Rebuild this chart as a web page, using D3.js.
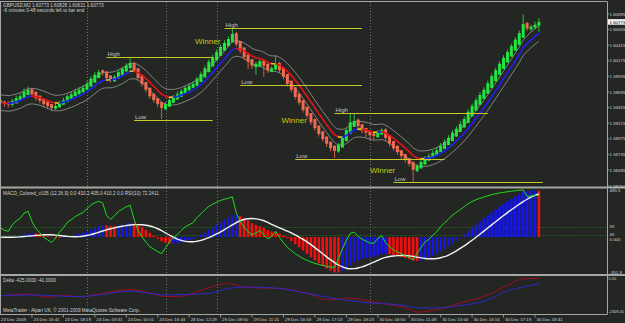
<!DOCTYPE html>
<html>
<head>
<meta charset="utf-8">
<script src="https://cdn.jsdelivr.net/npm/d3@7"></script>
<style>
  body { margin: 0; background: #232623; }
  svg { display: block; font-family: "Liberation Sans", Arial, sans-serif; }
  .mt-txt { fill: #d2d2d2; font-size: 4.7px; }
  .mt-axis { fill: #d2d2d2; font-size: 4.4px; }
  .mt-lvl-lbl { fill: #c4c4c4; font-size: 6px; }
  .mt-winner { fill: #c8c818; font-size: 8px; }
</style>
</head>
<body>
<svg id="chart"></svg>
<script>
// GBPUSD M2, 138 bars
const opens = [
  1.5957,1.5955,1.5953,1.5950,1.5952,1.5957,1.5961,1.5965,1.5974,1.5970,
  1.5964,1.5959,1.5955,1.5951,1.5944,1.5946,1.5950,1.5954,1.5959,1.5963,
  1.5966,1.5969,1.5973,1.5978,1.5984,1.5991,1.6003,1.6001,1.5995,1.5986,
  1.5990,1.5995,1.6001,1.6006,1.6014,1.6006,1.5995,1.5985,1.5976,1.5967,
  1.5960,1.5954,1.5943,1.5947,1.5953,1.5958,1.5962,1.5967,1.5972,1.5976,
  1.5979,1.5985,1.5992,1.6000,1.6009,1.6018,1.6025,1.6033,1.6040,1.6046,
  1.6060,1.6048,1.6038,1.6027,1.6020,1.6008,1.6009,1.6018,1.6013,1.6001,
  1.6004,1.6014,1.6007,1.5997,1.5987,1.5977,1.5967,1.5957,1.5947,1.5937,
  1.5928,1.5918,1.5909,1.5901,1.5893,1.5887,1.5878,1.5884,1.5894,1.5905,
  1.5916,1.5927,1.5920,1.5914,1.5910,1.5906,1.5900,1.5904,1.5912,1.5903,
  1.5894,1.5887,1.5880,1.5874,1.5868,1.5862,1.5848,1.5852,1.5858,1.5864,
  1.5868,1.5872,1.5877,1.5882,1.5888,1.5894,1.5901,1.5908,1.5915,1.5922,
  1.5932,1.5941,1.5950,1.5959,1.5967,1.5976,1.5986,1.5996,1.6005,1.6015,
  1.6024,1.6033,1.6042,1.6053,1.6076,1.6066,1.6069,1.6072];
const closes = [
  1.5953,1.5951,1.5950,1.5956,1.5960,1.5963,1.5970,1.5973,1.5966,1.5960,
  1.5956,1.5951,1.5948,1.5945,1.5948,1.5953,1.5957,1.5963,1.5966,1.5970,
  1.5973,1.5976,1.5982,1.5990,1.5996,1.6000,1.5999,1.5991,1.5988,1.5993,
  1.6000,1.6005,1.6010,1.6014,1.6003,1.5991,1.5982,1.5973,1.5963,1.5957,
  1.5951,1.5945,1.5951,1.5957,1.5962,1.5966,1.5971,1.5976,1.5979,1.5982,
  1.5990,1.5997,1.6006,1.6016,1.6023,1.6031,1.6039,1.6045,1.6051,1.6059,
  1.6043,1.6033,1.6023,1.6016,1.6010,1.6013,1.6017,1.6010,1.6003,1.6006,
  1.6013,1.6003,1.5993,1.5982,1.5973,1.5962,1.5953,1.5942,1.5933,1.5923,
  1.5914,1.5905,1.5897,1.5890,1.5883,1.5879,1.5888,1.5899,1.5911,1.5923,
  1.5925,1.5917,1.5911,1.5907,1.5903,1.5902,1.5908,1.5911,1.5899,1.5890,
  1.5883,1.5877,1.5871,1.5865,1.5859,1.5850,1.5856,1.5862,1.5868,1.5871,
  1.5876,1.5880,1.5887,1.5893,1.5899,1.5907,1.5913,1.5920,1.5928,1.5939,
  1.5948,1.5957,1.5965,1.5973,1.5983,1.5994,1.6003,1.6013,1.6022,1.6031,
  1.6040,1.6050,1.6060,1.6074,1.6067,1.6070,1.6073,1.6077];
const highs = [
  1.5958,1.5956,1.5955,1.5959,1.5964,1.5967,1.5975,1.5978,1.5976,1.5968,
  1.5963,1.5958,1.5953,1.5950,1.5951,1.5956,1.5961,1.5966,1.5970,1.5974,
  1.5977,1.5980,1.5986,1.5994,1.6000,1.6004,1.6004,1.6001,1.5993,1.5996,
  1.6003,1.6008,1.6014,1.6022,1.6016,1.6005,1.5993,1.5984,1.5975,1.5966,
  1.5959,1.5953,1.5954,1.5960,1.5965,1.5970,1.5974,1.5979,1.5983,1.5986,
  1.5993,1.6001,1.6010,1.6020,1.6027,1.6035,1.6043,1.6049,1.6055,1.6068,
  1.6062,1.6046,1.6036,1.6026,1.6019,1.6016,1.6020,1.6020,1.6013,1.6009,
  1.6026,1.6016,1.6006,1.5996,1.5985,1.5976,1.5965,1.5956,1.5945,1.5936,
  1.5926,1.5917,1.5908,1.5900,1.5893,1.5886,1.5891,1.5902,1.5914,1.5937,
  1.5937,1.5929,1.5920,1.5914,1.5910,1.5907,1.5911,1.5914,1.5914,1.5902,
  1.5893,1.5886,1.5880,1.5874,1.5868,1.5862,1.5859,1.5865,1.5871,1.5875,
  1.5880,1.5884,1.5891,1.5897,1.5903,1.5911,1.5917,1.5925,1.5932,1.5943,
  1.5952,1.5961,1.5969,1.5977,1.5987,1.5998,1.6007,1.6017,1.6026,1.6035,
  1.6044,1.6054,1.6064,1.6089,1.6077,1.6073,1.6078,1.6083];
const lows = [
  1.5949,1.5947,1.5946,1.5947,1.5953,1.5957,1.5960,1.5967,1.5962,1.5956,
  1.5952,1.5946,1.5943,1.5940,1.5942,1.5946,1.5950,1.5955,1.5961,1.5964,
  1.5967,1.5970,1.5973,1.5979,1.5987,1.5993,1.5995,1.5987,1.5984,1.5985,
  1.5990,1.5997,1.6002,1.6007,1.6000,1.5988,1.5978,1.5969,1.5959,1.5953,
  1.5946,1.5928,1.5942,1.5948,1.5954,1.5959,1.5963,1.5968,1.5973,1.5976,
  1.5979,1.5987,1.5994,1.6003,1.6013,1.6020,1.6028,1.6036,1.6042,1.6048,
  1.6040,1.6029,1.6019,1.6005,1.6005,1.5996,1.6008,1.5993,1.5999,1.6000,
  1.6003,1.5999,1.5989,1.5978,1.5969,1.5958,1.5949,1.5938,1.5929,1.5919,
  1.5910,1.5901,1.5893,1.5885,1.5878,1.5868,1.5876,1.5886,1.5897,1.5909,
  1.5919,1.5912,1.5906,1.5900,1.5895,1.5896,1.5899,1.5904,1.5895,1.5886,
  1.5879,1.5873,1.5867,1.5861,1.5855,1.5830,1.5846,1.5852,1.5859,1.5865,
  1.5868,1.5873,1.5877,1.5884,1.5890,1.5896,1.5904,1.5910,1.5917,1.5925,
  1.5935,1.5945,1.5954,1.5962,1.5970,1.5980,1.5991,1.6000,1.6010,1.6019,
  1.6028,1.6037,1.6047,1.6057,1.6064,1.6063,1.6066,1.6062];

const priceTicks = [1.60895, 1.60655, 1.60415, 1.60175, 1.59935, 1.59695, 1.59455, 1.59215, 1.58975, 1.58735, 1.58495, 1.58250];
const lastPrice = 1.60773;
const timeLabels = ['23 Dec 2009', '23 Dec 16:41', '23 Dec 18:19', '24 Dec 03:31', '24 Dec 10:01', '24 Dec 16:43',
  '28 Dec 12:29', '29 Dec 08:50', '29 Dec 11:21', '29 Dec 16:03', '29 Dec 17:13', '29 Dec 18:23',
  '30 Dec 03:50', '30 Dec 11:48', '30 Dec 15:04', '30 Dec 16:16', '30 Dec 17:19', '30 Dec 18:41'];
const daySeparators = [22, 42, 55, 94];

// High / Low lines drawn on the chart
const levelNames  = ['High', 'Low', 'High', 'Low', 'High', 'Low', 'Low'];
const levelPrices = [1.60234, 1.59265, 1.60680, 1.59803, 1.59373, 1.58665, 1.58312];
const levelFrom   = [27, 34, 57, 61, 85, 75, 100];
const levelTo     = [54, 54, 92, 92, 124, 113, 138];
const winnerBars   = [49.5, 71.5, 94];
const winnerPrices = [1.60434, 1.59219, 1.58450];

// MACD / RSI panel scale labels
const macdTopLabel = '485.5', macdBottomLabel = '-351.9';
const rsiLevels = [55, 45];

// Delta indicator, two lines
const deltaRedBars  = [0,7,12,16,20,25,33,38,42,47,50,58,63,71,78,83,89,94,99,104,106,111,117,124,129,133,137];
const deltaRed      = [-1222,-1087,-1311,-1155,-1290,-1087,-767,-998,-1270,-1222,-930,-360,-631,-699,-1039,-1494,-1378,-1609,-1833,-2125,-2356,-2173,-1718,-1154,-475,-20,20];
const deltaBlueBars = [0,7,15,20,25,33,38,42,48,53,58,62,71,78,86,94,99,104,106,111,117,124,129,134,137];
const deltaBlue     = [-1202,-1154,-1222,-1270,-1154,-883,-1039,-1154,-1107,-1039,-699,-591,-699,-1039,-1446,-1718,-1786,-1949,-2057,-2057,-1901,-1494,-862,-543,-360];
const deltaTop = 0, deltaBottom = -2309.45;

function ema(arr, n) {
  const k = 2 / (n + 1);
  let prev = arr[0];
  return arr.map((v, i) => (prev = i ? v * k + prev * (1 - k) : v));
}

// Wilder RSI, seeded with the mean move of the first n bars
function rsi(arr, n) {
  const diffs = arr.map((v, i) => (i ? v - arr[i - 1] : 0));
  let ag = d3.mean(diffs.slice(1, n + 1), (d) => Math.max(d, 0));
  let al = d3.mean(diffs.slice(1, n + 1), (d) => Math.max(-d, 0));
  return diffs.map((d, i) => {
    if (i) {
      ag = (ag * (n - 1) + Math.max(d, 0)) / n;
      al = (al * (n - 1) + Math.max(-d, 0)) / n;
    }
    return al === 0 ? 100 : 100 - 100 / (1 + ag / al);
  });
}

function render() {
  const W = 625, H = 323, R = 607;
  const n = closes.length;
  const bars = d3.range(n);

  const svg = d3.select('#chart').attr('width', W).attr('height', H);
  svg.append('rect').attr('width', W).attr('height', H).attr('fill', '#232623');

  const defs = svg.append('defs');
  [['cMain', 2, 186.5], ['cMacd', 188.5, 274], ['cDelta', 276, 314]].forEach(([id, y0, y1]) =>
    defs.append('clipPath').attr('id', id).append('rect')
      .attr('x', 0).attr('y', y0).attr('width', R).attr('height', y1 - y0));

  const x  = d3.scaleLinear().domain([0, n - 1]).range([0.5, 538.9]);
  const yP = d3.scaleLinear().domain([1.5825, 1.60895]).range([186, 14]);
  const yR = d3.scaleLinear().domain([0, 100]).range([275, 187]);
  const yD = d3.scaleLinear().domain([deltaBottom, deltaTop]).range([311.5, 278.5]);

  // day separators
  daySeparators.forEach((b) =>
    svg.append('line').attr('x1', Math.round(x(b)) + 0.5).attr('x2', Math.round(x(b)) + 0.5)
      .attr('y1', 2).attr('y2', 314).attr('stroke', '#8a8a8a').attr('stroke-width', 0.8)
      .attr('stroke-dasharray', '1,2'));

  // ---- main panel ----
  const gm = svg.append('g').attr('clip-path', 'url(#cMain)');

  const ma = ema(closes, 8);
  const env = 0.0012;
  [env, -env].forEach((o) =>
    gm.append('path').datum(ma)
      .attr('d', d3.line().x((d, i) => x(i)).y((d) => yP(d + o)).curve(d3.curveMonotoneX))
      .attr('fill', 'none').attr('stroke', '#9c9c9c').attr('stroke-width', 0.8));

  const up = (i) => closes[i] >= opens[i];
  gm.selectAll('.wick').data(bars).enter().append('line')
    .attr('x1', (i) => x(i)).attr('x2', (i) => x(i))
    .attr('y1', (i) => yP(Math.max(highs[i], opens[i], closes[i])))
    .attr('y2', (i) => yP(Math.min(lows[i], opens[i], closes[i])))
    .attr('stroke', (i) => (up(i) ? '#1fd83c' : '#e8604a')).attr('stroke-width', 0.9);
  gm.selectAll('.body').data(bars).enter().append('rect')
    .attr('x', (i) => x(i) - 1.5).attr('width', 3)
    .attr('y', (i) => yP(Math.max(opens[i], closes[i])))
    .attr('height', (i) => Math.max(0.8, Math.abs(yP(opens[i]) - yP(closes[i]))))
    .attr('fill', (i) => (up(i) ? '#22e640' : '#f26a52'));

  bars.slice(1).forEach((i) => {
    const s = ma[i] - ma[i - 1];
    gm.append('line').attr('x1', x(i - 1)).attr('y1', yP(ma[i - 1])).attr('x2', x(i)).attr('y2', yP(ma[i]))
      .attr('stroke', s > 0.00004 ? '#2020f0' : s < -0.00004 ? '#e01414' : '#d8d820')
      .attr('stroke-width', 1.6).attr('stroke-linecap', 'round');
  });

  levelNames.forEach((name, k) => {
    const ly = Math.round(yP(levelPrices[k])) + 0.5;
    gm.append('line').attr('x1', x(levelFrom[k])).attr('x2', x(levelTo[k]))
      .attr('y1', ly).attr('y2', ly).attr('stroke', '#c8c828').attr('stroke-width', 1.1);
    gm.append('text').attr('x', x(levelFrom[k]) + 1).attr('y', ly - 2)
      .attr('class', 'mt-lvl-lbl').text(name);
  });
  winnerBars.forEach((b, k) =>
    gm.append('text').attr('x', x(b)).attr('y', yP(winnerPrices[k]))
      .attr('class', 'mt-winner').text('Winner'));

  svg.append('text').attr('x', 3).attr('y', 6.5).attr('class', 'mt-txt')
    .text('GBPUSD,M2  1.60773 1.60828 1.60621 1.60773');
  svg.append('text').attr('x', 3).attr('y', 11.5).attr('class', 'mt-txt')
    .text('-6 minutes 0-48 seconds left to bar end');

  // ---- MACD + RSI panel ----
  const gc = svg.append('g').attr('clip-path', 'url(#cMacd)');
  const e12 = ema(closes, 12), e26 = ema(closes, 26);
  const macd = closes.map((c, i) => (e12[i] - e26[i]) * 1e5);
  const signal = macd.map((v, i) => d3.mean(macd.slice(Math.max(0, i - 8), i + 1)));
  const rs = rsi(closes, 10);
  // the sub-window scales itself to the visible MACD values, as the terminal does
  const yM = d3.scaleLinear().domain(d3.extent(macd.concat(signal))).range([272.5, 190.5]);

  rsiLevels.forEach((v) =>
    gc.append('line').attr('x1', 0).attr('x2', R).attr('y1', Math.round(yR(v)) + 0.5).attr('y2', Math.round(yR(v)) + 0.5)
      .attr('stroke', '#1c8c1c').attr('stroke-width', 0.8).attr('stroke-dasharray', '1,1.5'));

  gc.selectAll('.hist').data(bars).enter().append('rect')
    .attr('x', (i) => x(i) - 1.3).attr('width', 2.6)
    .attr('y', (i) => Math.min(yM(0), yM(macd[i])))
    .attr('height', (i) => Math.abs(yM(macd[i]) - yM(0)))
    .attr('fill', (i) => (i && macd[i] < macd[i - 1] ? '#f01010' : '#1616e8'));

  gc.append('path').datum(signal)
    .attr('d', d3.line().x((d, i) => x(i)).y((d) => yM(d)).curve(d3.curveMonotoneX))
    .attr('fill', 'none').attr('stroke', '#f2f2f2').attr('stroke-width', 1.4);
  gc.append('path').datum(rs)
    .attr('d', d3.line().x((d, i) => x(i)).y((d) => yR(d)))
    .attr('fill', 'none').attr('stroke', '#20dc20').attr('stroke-width', 1);

  svg.append('text').attr('x', 3).attr('y', 194.5).attr('class', 'mt-txt')
    .text('MACD_Colored_v105 (12,26,9) 0.0 410.2 405.0 410.2 0.0  RSI(10) 72.2411');

  // ---- Delta panel ----
  const gd = svg.append('g').attr('clip-path', 'url(#cDelta)');
  [[deltaRedBars, deltaRed, '#a00c22'], [deltaBlueBars, deltaBlue, '#2a2ac8']].forEach(([bx, vals, col]) =>
    gd.append('path').datum(vals)
      .attr('d', d3.line().x((d, i) => x(bx[i])).y((d) => yD(d)).curve(d3.curveMonotoneX))
      .attr('fill', 'none').attr('stroke', col).attr('stroke-width', 1));
  svg.append('text').attr('x', 3).attr('y', 282).attr('class', 'mt-txt').text('Delta -425.0000 -41.0000');
  svg.append('text').attr('x', 3).attr('y', 312).attr('class', 'mt-txt')
    .text('MetaTrader - Alpari UK, \u00a9 2001-2009 MetaQuotes Software Corp.');

  // ---- frames ----
  const frame = svg.append('g').attr('stroke', '#a6a6a6');
  frame.append('line').attr('x1', 0).attr('x2', R).attr('y1', 1.5).attr('y2', 1.5).attr('stroke-width', 1);
  frame.append('line').attr('x1', 0.5).attr('x2', 0.5).attr('y1', 1.5).attr('y2', 314.5).attr('stroke-width', 1);
  frame.append('line').attr('x1', R + 0.5).attr('x2', R + 0.5).attr('y1', 1.5).attr('y2', 314.5).attr('stroke-width', 1);
  frame.append('line').attr('x1', 0).attr('x2', W).attr('y1', 187.5).attr('y2', 187.5).attr('stroke-width', 2);
  frame.append('line').attr('x1', 0).attr('x2', W).attr('y1', 275).attr('y2', 275).attr('stroke-width', 2);
  frame.append('line').attr('x1', 0).attr('x2', R).attr('y1', 314.5).attr('y2', 314.5).attr('stroke-width', 1);

  // ---- right price axis ----
  priceTicks.forEach((p) => {
    svg.append('line').attr('x1', R).attr('x2', R + 2).attr('y1', yP(p)).attr('y2', yP(p)).attr('stroke', '#a6a6a6');
    svg.append('text').attr('x', R + 2.5).attr('y', yP(p) + 1.6).attr('class', 'mt-axis').text(p.toFixed(5));
  });
  svg.append('rect').attr('x', R + 1).attr('y', yP(lastPrice) - 2.8).attr('width', W - R - 1).attr('height', 5.6).attr('fill', '#f4f4f4');
  svg.append('text').attr('x', R + 2.5).attr('y', yP(lastPrice) + 1.6).attr('class', 'mt-axis')
    .style('fill', '#000').text(lastPrice.toFixed(5));

  [[192.1, macdTopLabel], [yR(55) + 1.6, '55'], [yR(45) + 0.6, '45'], [yR(45) + 5.2, '0.000'], [274, macdBottomLabel]]
    .forEach(([yy, t]) => svg.append('text').attr('x', R + 2.5).attr('y', yy).attr('class', 'mt-axis').text(t));
  [[yD(deltaTop) + 1.6, '0.00'], [yD(deltaBottom) + 1.6, deltaBottom.toFixed(2)]]
    .forEach(([yy, t]) => svg.append('text').attr('x', R + 1.5).attr('y', yy).attr('class', 'mt-axis')
      .style('font-size', '3.9px').text(t));

  // ---- time axis ----
  timeLabels.forEach((t, k) => {
    const tx = x(k * 8);
    if (k) svg.append('line').attr('x1', tx).attr('x2', tx).attr('y1', 314.5).attr('y2', 317.5).attr('stroke', '#a6a6a6').attr('stroke-width', 0.8);
    svg.append('text').attr('x', k ? tx + 1.5 : 1).attr('y', 320.5).attr('class', 'mt-axis').text(t);
  });
}

render();
</script>
</body>
</html>
